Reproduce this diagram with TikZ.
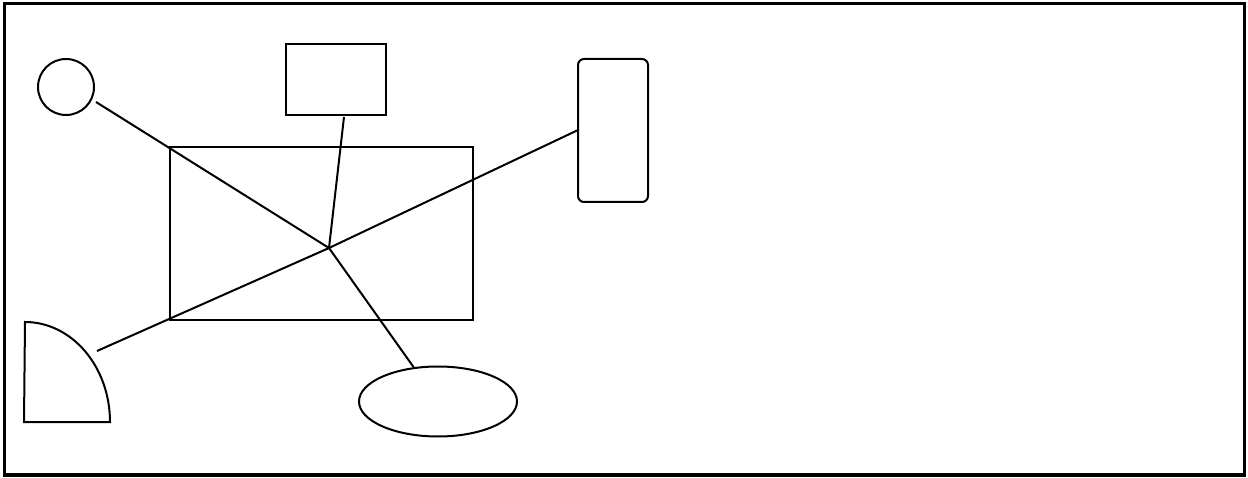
\documentclass[tikz,border=0pt]{standalone}
\usetikzlibrary{shapes.geometric}
\begin{document}
\begin{tikzpicture}[x=1pt,y=-1pt,
  shp/.style={draw=black,line width=2pt,inner sep=0pt},
  conn/.style={draw=black,line width=2pt}]
\useasboundingbox (0,0) rectangle (1248,478);
\draw[line width=3.5pt] (4.5,3.5) rectangle (1244.5,475);
\node[shp,circle,minimum size=56pt] (circ) at (66,87) {};
\node[shp,rectangle,line width=2.5pt,minimum width=100pt,minimum height=71pt] (small) at (336,79.5) {};
\node[shp,rectangle,minimum width=303pt,minimum height=173pt] (big) at (321.5,233.5) {};
\node[shp,rectangle,rounded corners=6pt,minimum width=70pt,minimum height=143pt] (rr) at (613,130.5) {};
\node[shp,ellipse,minimum width=158pt,minimum height=70pt] (ell) at (438,401.5) {};
\draw[line width=2pt] (25,322) arc[start angle=90,end angle=0,x radius=85,y radius=-100] -- (24,422) -- cycle;
\coordinate (hub) at (329,248);
\coordinate (cEnd) at (96,102);
\coordinate (sEnd) at (344,117);
\coordinate (qEnd) at (97,351);
\draw[conn] (cEnd) -- (hub);
\draw[conn] (sEnd) -- (hub);
\draw[conn] (rr.west) -- (hub) -- (qEnd);
\draw[conn] (hub) -- (ell);
\end{tikzpicture}
\end{document}
